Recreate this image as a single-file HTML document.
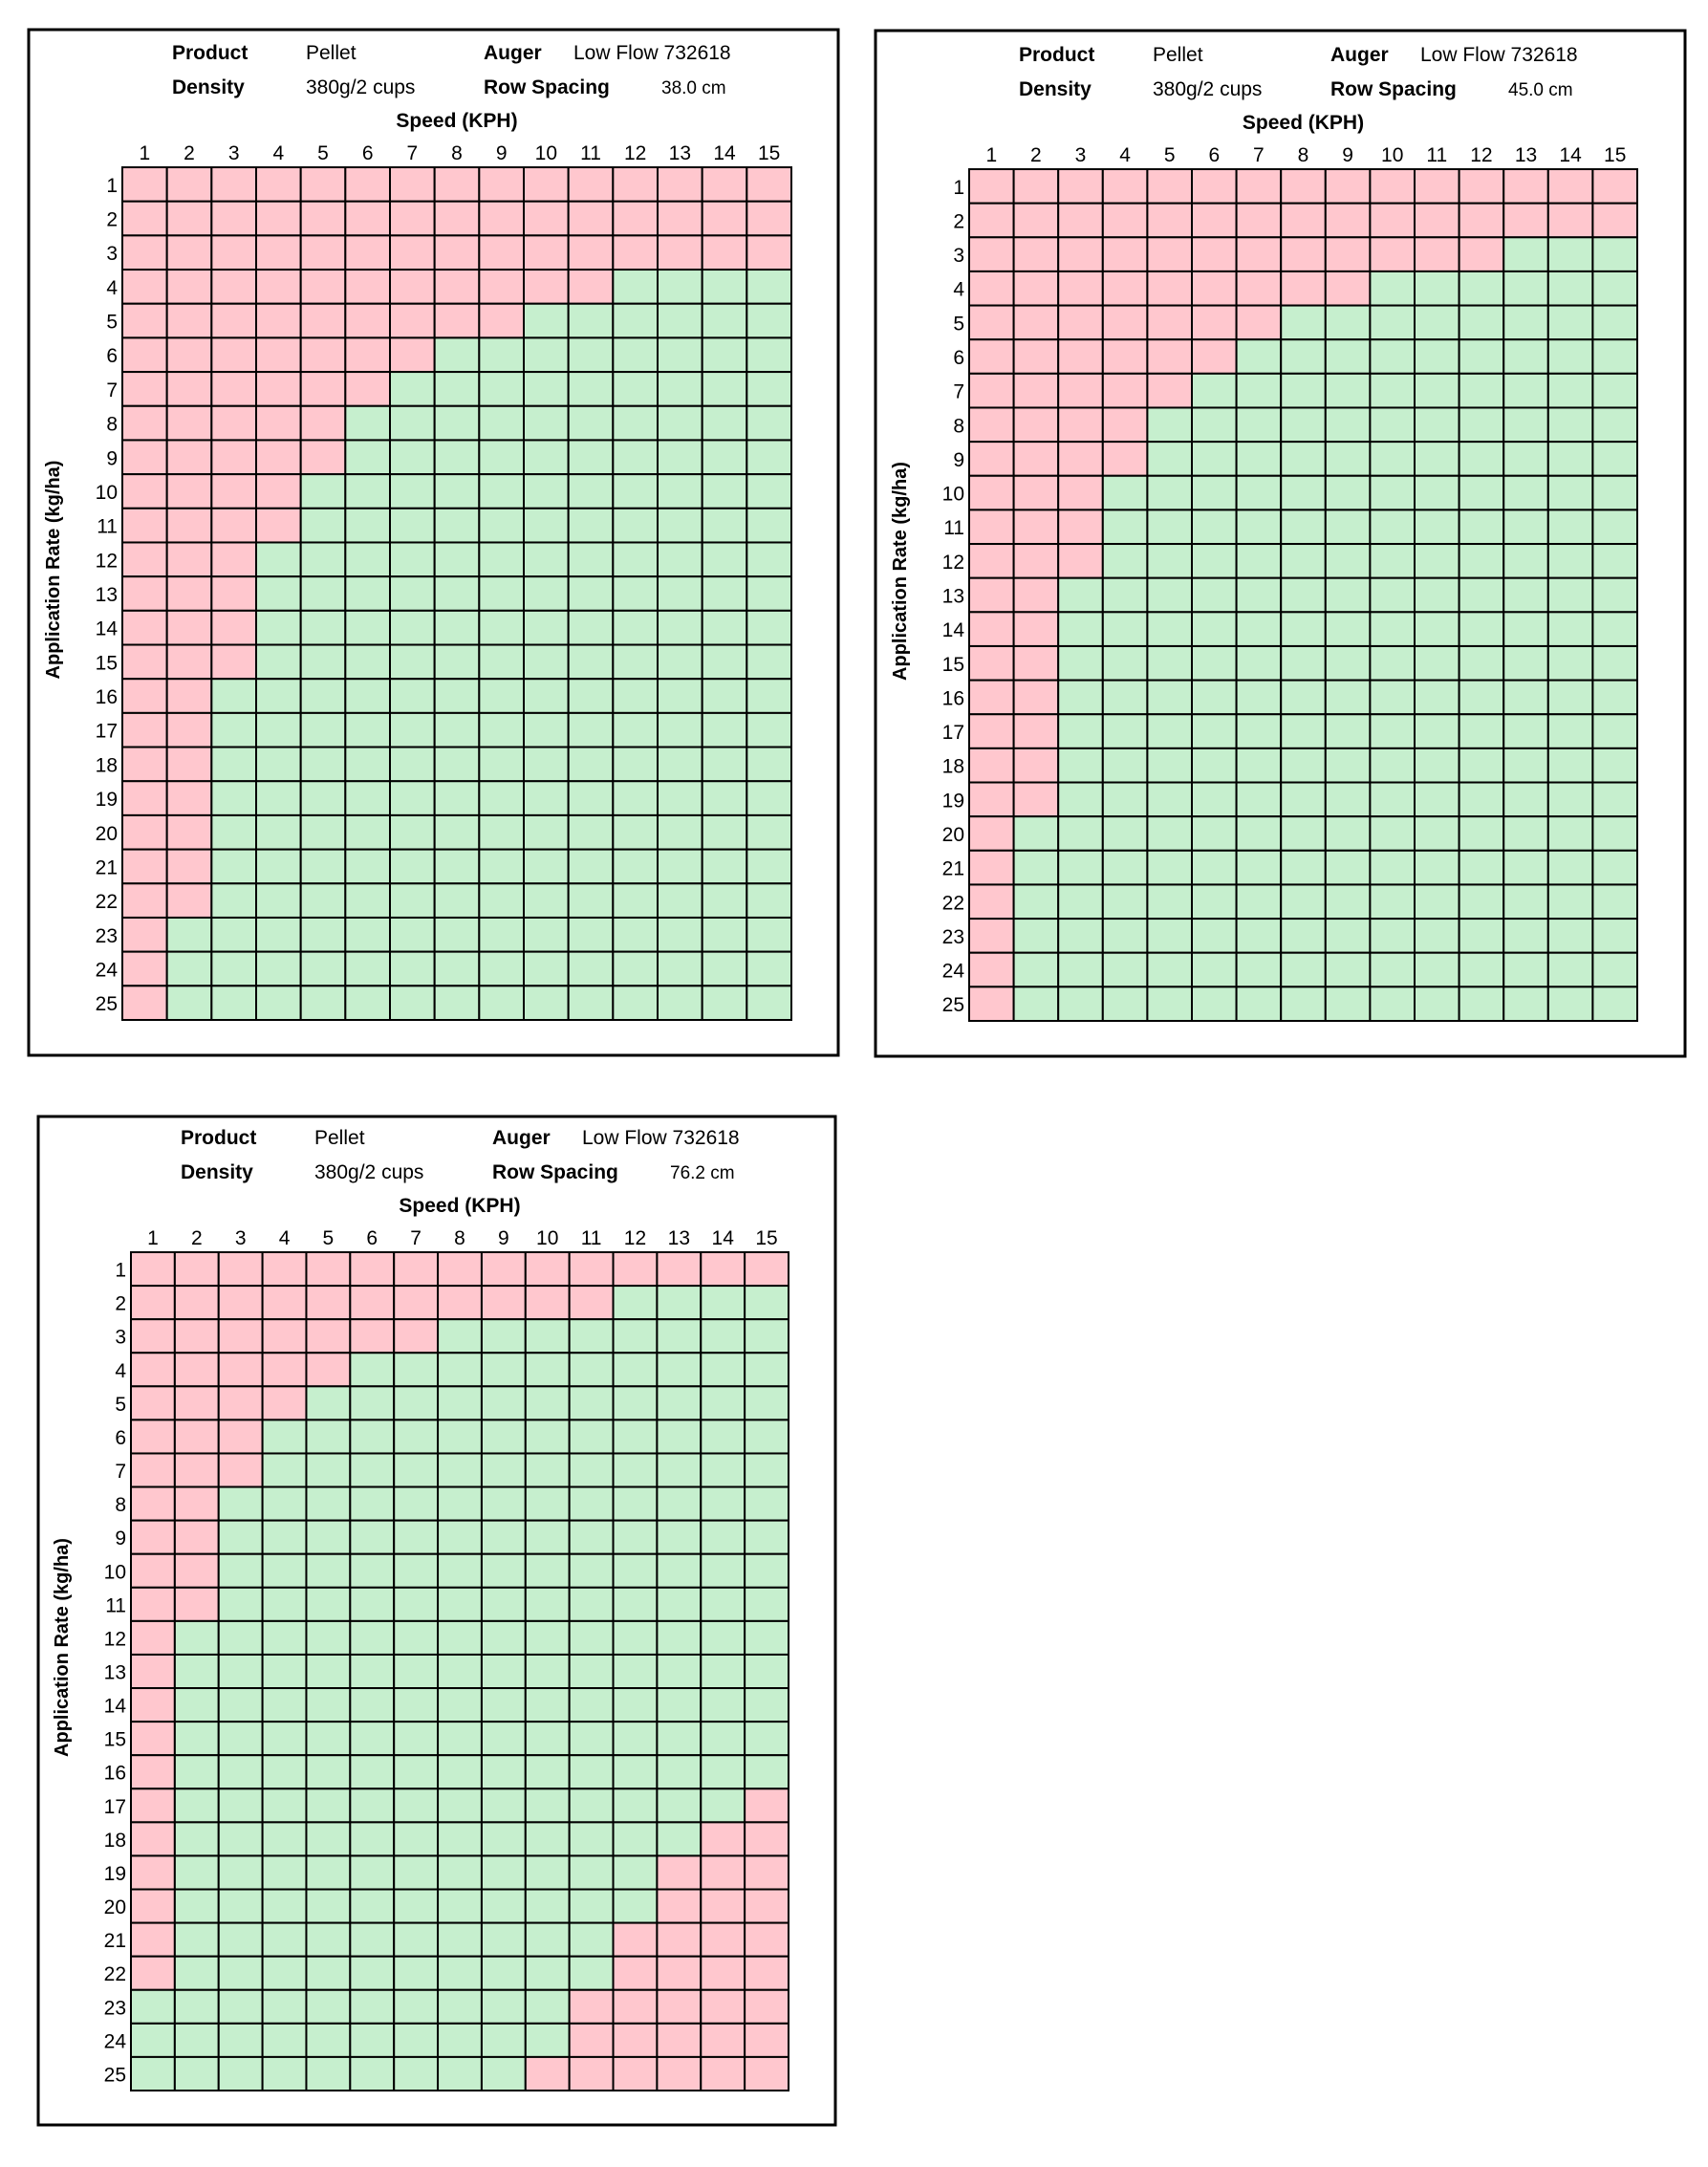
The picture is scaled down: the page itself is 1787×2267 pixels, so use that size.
<!DOCTYPE html>
<html><head><meta charset="utf-8">
<style>
html,body{margin:0;padding:0;background:#fff;}
svg{display:block;}
text{font-family:"Liberation Sans",sans-serif;fill:#000;}
</style></head>
<body>
<svg id="chart" width="1787" height="2267" viewBox="0 0 1787 2267" xmlns="http://www.w3.org/2000/svg"></svg>
<script>
// Data: per application-rate row (1..25), number of leading red speed columns (low limit)
const speeds = [1,2,3,4,5,6,7,8,9,10,11,12,13,14,15];
const rates = [1,2,3,4,5,6,7,8,9,10,11,12,13,14,15,16,17,18,19,20,21,22,23,24,25];
const rowSpacings = ["38.0 cm","45.0 cm","76.2 cm"];
const lowRed38 = [15,15,15,11,9,7,6,5,5,4,4,3,3,3,3,2,2,2,2,2,2,2,1,1,1];
const highRedStart38 = [16,16,16,16,16,16,16,16,16,16,16,16,16,16,16,16,16,16,16,16,16,16,16,16,16];
const lowRed45 = [15,15,12,9,7,6,5,4,4,3,3,3,2,2,2,2,2,2,2,1,1,1,1,1,1];
const highRedStart45 = [16,16,16,16,16,16,16,16,16,16,16,16,16,16,16,16,16,16,16,16,16,16,16,16,16];
const lowRed76 = [15,11,7,5,4,3,3,2,2,2,2,1,1,1,1,1,1,1,1,1,1,1,0,0,0];
const highRedStart76 = [16,16,16,16,16,16,16,16,16,16,16,16,16,16,16,16,15,14,13,13,12,12,11,11,10];

const panels = [
  {box:[30,31,847,1073], gx:128, gy:175, gw:700, gh:892, spacing:rowSpacings[0], low:lowRed38, high:highRedStart38, name:'chart-38cm'},
  {box:[916,32,847,1073], gx:1014, gy:177, gw:699, gh:891, spacing:rowSpacings[1], low:lowRed45, high:highRedStart45, name:'chart-45cm'},
  {box:[40,1168,834,1055], gx:137, gy:1310, gw:688, gh:877, spacing:rowSpacings[2], low:lowRed76, high:highRedStart76, name:'chart-76cm'}
];
const NS='http://www.w3.org/2000/svg';
const svg=document.getElementById('chart');
function mk(tag, attrs, parent){const e=document.createElementNS(NS,tag);for(const k in attrs)e.setAttribute(k,attrs[k]);parent.appendChild(e);return e;}
function txt(parent,x,y,s,size,weight,anchor){const t=mk('text',{x:x,y:y,'font-size':size,'font-weight':weight||'normal','text-anchor':anchor||'start'},parent);t.textContent=s;return t;}

panels.forEach(p=>{
  const g=mk('g',{},svg);
  
  
  const box=mk('rect',{x:p.box[0],y:p.box[1],width:p.box[2],height:p.box[3],fill:'#fff',stroke:'#000','stroke-width':3},g);
  
  
  const cw=p.gw/speeds.length, rh=p.gh/rates.length;
  const xs=i=>p.gx+i*cw, ys=j=>p.gy+j*rh;
  // header
  const hx=p.gx, ty=p.gy;
  let t;
  t=txt(g,hx+52,ty-113,'Product',21,'bold');
  
  
  t=txt(g,hx+192,ty-113,'Pellet',21);
  
  
  t=txt(g,hx+378,ty-113,'Auger',21,'bold');
  
  
  t=txt(g,hx+472,ty-113,'Low Flow 732618',21);
  
  
  t=txt(g,hx+52,ty-77,'Density',21,'bold');
  
  
  t=txt(g,hx+192,ty-77,'380g/2 cups',21);
  
  
  t=txt(g,hx+378,ty-77,'Row Spacing',21,'bold');
  
  
  t=txt(g,hx+564,ty-77,p.spacing,19);
  
  
  t=txt(g,hx+p.gw/2,ty-42,'Speed (KPH)',21,'bold','middle');
  
  
  // y title
  const yc=p.gy+p.gh/2-25;
  t=mk('text',{x:0,y:0,'font-size':20,'font-weight':'bold','text-anchor':'middle',transform:'translate('+(p.gx-66)+','+yc+') rotate(-90)'},g);
  t.textContent='Application Rate (kg/ha)';
  
  
  // cells
  rates.forEach((r,j)=>{
    speeds.forEach((s,i)=>{
      const red = s<=p.low[j] || s>=p.high[j];
      const c=mk('rect',{x:xs(i),y:ys(j),width:cw,height:rh,fill:red?'#FFC7CE':'#C6EFCE',stroke:'#000','stroke-width':2},g);
      
      
    });
    const l=txt(g,p.gx-5,ys(j)+rh/2+8,String(r),21,'normal','end');
    
    
  });
  speeds.forEach((s,i)=>{
    const l=txt(g,xs(i)+cw/2,p.gy-8,String(s),21,'normal','middle');
    
    
  });
});
</script>
</body></html>
